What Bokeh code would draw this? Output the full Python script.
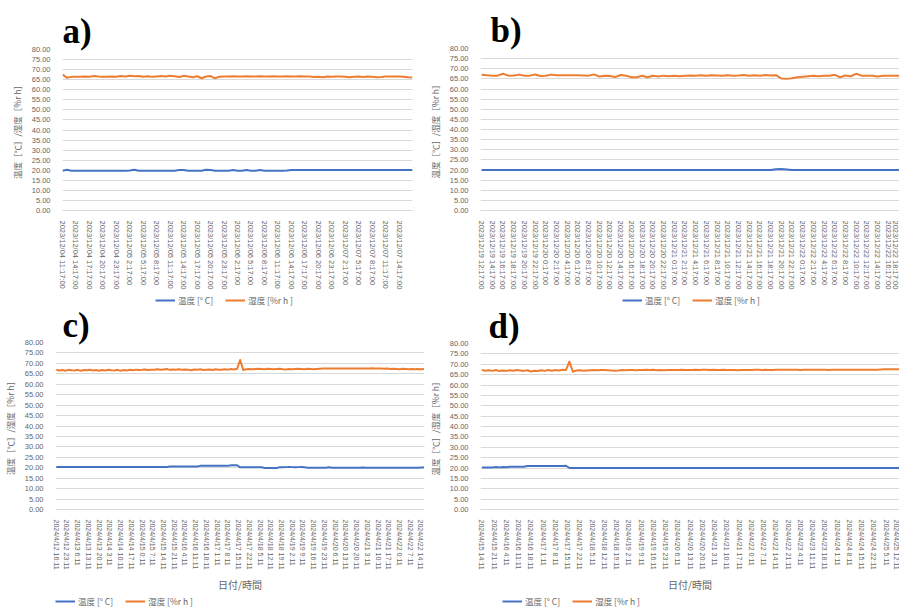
import numpy as np
from bokeh.plotting import figure
from bokeh.layouts import column, row
from bokeh.models import FixedTicker, PrintfTickFormatter, Legend, LegendItem, Range1d
from bokeh.embed import file_html
from bokeh.resources import INLINE

# ---------------- data ----------------
y_ticks = [0, 5, 10, 15, 20, 25, 30, 35, 40, 45, 50, 55, 60, 65, 70, 75, 80]

legend_temp = "温度 [° C]"
legend_hum = "湿度 [%r h ]"
y_title = "温度［℃］/湿度［%r h］"
x_title = "日付/時間"

# panel a : hourly data, labels every 3 h
labels_a = ["2023/12/04 11:17:00", "2023/12/04 14:17:00", "2023/12/04 17:17:00", "2023/12/04 20:17:00",
            "2023/12/04 23:17:00", "2023/12/05 2:17:00", "2023/12/05 5:17:00", "2023/12/05 8:17:00",
            "2023/12/05 11:17:00", "2023/12/05 14:17:00", "2023/12/05 17:17:00", "2023/12/05 20:17:00",
            "2023/12/05 23:17:00", "2023/12/06 2:17:00", "2023/12/06 5:17:00", "2023/12/06 8:17:00",
            "2023/12/06 11:17:00", "2023/12/06 14:17:00", "2023/12/06 17:17:00", "2023/12/06 20:17:00",
            "2023/12/06 23:17:00", "2023/12/07 2:17:00", "2023/12/07 5:17:00", "2023/12/07 8:17:00",
            "2023/12/07 11:17:00", "2023/12/07 14:17:00"]
hum_a = [67.5, 66.0, 66.4, 66.5, 66.5, 66.6, 66.5, 66.8, 66.6, 66.5,
         66.5, 66.6, 66.5, 66.8, 66.6, 66.9, 66.7, 66.8, 66.5, 66.7,
         66.4, 66.6, 66.8, 66.6, 66.9, 66.7, 66.3, 66.9, 66.6, 66.2,
         66.7, 65.7, 66.6, 66.8, 65.7, 66.5, 66.6, 66.6, 66.7, 66.6,
         66.6, 66.7, 66.6, 66.6, 66.7, 66.6, 66.6, 66.7, 66.6, 66.6,
         66.7, 66.6, 66.6, 66.7, 66.6, 66.6, 66.3, 66.4, 66.2, 66.6,
         66.5, 66.6, 66.6, 66.5, 66.2, 66.5, 66.6, 66.3, 66.6, 66.4,
         66.2, 66.3, 66.6, 66.6, 66.6, 66.6, 66.5, 66.2, 66.1]
temp_a = [19.8, 20.2, 19.8, 19.8, 19.8, 19.8, 19.8, 19.8, 19.8, 19.8,
          19.8, 19.8, 19.8, 19.8, 19.8, 19.9, 20.2, 19.8, 19.8, 19.8,
          19.8, 19.8, 19.8, 19.8, 19.8, 19.8, 20.1, 20.1, 19.8, 19.8,
          19.8, 19.8, 20.2, 20.1, 19.8, 19.8, 19.8, 19.8, 20.1, 19.8,
          19.8, 20.1, 19.8, 19.8, 20.1, 19.8, 19.8, 19.8, 19.8, 19.8,
          19.9, 20.1, 20.1, 20.1, 20.1, 20.1, 20.1, 20.1, 20.1, 20.1,
          20.1, 20.1, 20.1, 20.1, 20.1, 20.1, 20.1, 20.1, 20.1, 20.1,
          20.1, 20.1, 20.1, 20.1, 20.1, 20.1, 20.1, 20.1, 20.1]

# panel b : hourly data, labels every 2 h
labels_b = ["2023/12/19 12:17:00", "2023/12/19 14:17:00", "2023/12/19 16:17:00", "2023/12/19 18:17:00",
            "2023/12/19 20:17:00", "2023/12/19 22:17:00",
            "2023/12/20 0:17:00", "2023/12/20 2:17:00", "2023/12/20 4:17:00", "2023/12/20 6:17:00",
            "2023/12/20 8:17:00", "2023/12/20 10:17:00", "2023/12/20 12:17:00", "2023/12/20 14:17:00",
            "2023/12/20 16:17:00", "2023/12/20 18:17:00", "2023/12/20 20:17:00", "2023/12/20 22:17:00",
            "2023/12/21 0:17:00", "2023/12/21 2:17:00", "2023/12/21 4:17:00", "2023/12/21 6:17:00",
            "2023/12/21 8:17:00", "2023/12/21 10:17:00", "2023/12/21 12:17:00", "2023/12/21 14:17:00",
            "2023/12/21 16:17:00", "2023/12/21 18:17:00", "2023/12/21 20:17:00", "2023/12/21 22:17:00",
            "2023/12/22 0:17:00", "2023/12/22 2:17:00", "2023/12/22 4:17:00", "2023/12/22 6:17:00",
            "2023/12/22 8:17:00", "2023/12/22 10:17:00", "2023/12/22 12:17:00", "2023/12/22 14:17:00",
            "2023/12/22 16:17:00", "2023/12/22 18:17:00"]
hum_b = [67.0, 66.8, 66.5, 66.6, 67.5, 66.6, 66.7, 67.1, 66.5, 66.6,
         67.2, 66.4, 66.5, 67.1, 66.8, 66.8, 66.8, 66.8, 66.8, 66.7,
         66.6, 67.2, 66.2, 66.5, 66.4, 65.9, 66.9, 66.6, 65.8, 65.8,
         66.5, 65.8, 66.5, 66.2, 66.6, 66.3, 66.5, 66.3, 66.6, 66.7,
         66.5, 66.8, 66.6, 66.8, 66.7, 66.6, 66.8, 66.6, 66.7, 66.9,
         66.6, 66.8, 66.6, 66.9, 66.7, 66.8, 65.2, 65.0, 65.3, 65.8,
         66.1, 66.3, 66.5, 66.3, 66.5, 66.5, 67.0, 65.8, 66.7, 66.3,
         67.5, 66.6, 66.5, 66.5, 66.2, 66.5, 66.5, 66.5, 66.5]
temp_b = [20.0, 20.0, 20.0, 20.0, 20.0, 20.0, 20.0, 20.0, 20.0, 20.0,
          20.0, 20.0, 20.0, 20.0, 20.0, 20.0, 20.0, 20.0, 20.0, 20.0,
          20.0, 20.0, 20.0, 20.0, 20.0, 20.0, 20.0, 20.0, 20.0, 20.0,
          20.0, 20.0, 20.0, 20.0, 20.0, 20.0, 20.0, 20.0, 20.0, 20.0,
          20.0, 20.0, 20.0, 20.0, 20.0, 20.0, 20.0, 20.0, 20.0, 20.0,
          20.0, 20.0, 20.0, 20.0, 20.0, 20.4, 20.5, 20.3, 20.0, 20.0,
          20.0, 20.0, 20.0, 20.0, 20.0, 20.0, 20.0, 20.0, 20.0, 20.0,
          20.0, 20.0, 20.0, 20.0, 20.0, 20.0, 20.0, 20.0, 20.0]

# panel c : 2-hourly data, labels every 7 h
labels_c = ["2024/4/12 16:11", "2024/4/12 23:11", "2024/4/13 6:11", "2024/4/13 13:11", "2024/4/13 20:11",
            "2024/4/14 3:11", "2024/4/14 10:11", "2024/4/14 17:11", "2024/4/15 0:11", "2024/4/15 7:11",
            "2024/4/15 14:11", "2024/4/15 21:11", "2024/4/16 4:11", "2024/4/16 11:11", "2024/4/16 18:11",
            "2024/4/17 1:11", "2024/4/17 8:11", "2024/4/17 15:11", "2024/4/17 22:11", "2024/4/18 5:11",
            "2024/4/18 12:11", "2024/4/18 19:11", "2024/4/19 2:11", "2024/4/19 9:11", "2024/4/19 16:11",
            "2024/4/19 23:11", "2024/4/20 6:11", "2024/4/20 13:11", "2024/4/20 20:11", "2024/4/21 3:11",
            "2024/4/21 10:11", "2024/4/21 17:11", "2024/4/22 0:11", "2024/4/22 7:11", "2024/4/22 14:11"]
hum_c = [66.9, 66.6, 66.8, 66.5, 66.9, 66.7, 66.6, 66.9, 66.5, 66.8,
         66.7, 66.9, 66.6, 66.8, 66.5, 66.8, 66.6, 66.9, 66.7, 66.6,
         66.9, 66.5, 66.8, 66.6, 66.9, 66.7, 67.0, 66.8, 66.9, 67.1,
         66.8, 67.0, 66.9, 67.2, 66.9, 67.1, 67.3, 66.9, 67.1, 67.0,
         67.2, 66.9, 67.1, 67.0, 66.7, 67.1, 67.0, 67.2, 66.8, 67.0,
         67.1, 66.8, 67.2, 67.0, 66.9, 67.2, 67.0, 67.3, 67.1, 67.4,
         71.6,
         66.8, 67.2, 67.3, 67.2, 67.3, 67.4, 67.3, 67.2, 67.4, 67.3,
         67.2, 67.3, 67.4, 67.2, 67.1, 67.3, 67.2, 67.3, 67.4, 67.3,
         67.2, 67.4, 67.3, 67.2, 67.3, 67.4, 67.5, 67.5, 67.5, 67.5,
         67.5, 67.6, 67.5, 67.5, 67.6, 67.5, 67.5, 67.6, 67.6, 67.5,
         67.5, 67.6, 67.7, 67.6, 67.5, 67.5, 67.4, 67.5, 67.3, 67.4,
         67.3, 67.2, 67.4, 67.3, 67.2, 67.3, 67.2, 67.3, 67.2, 67.3]
temp_c = [20.3, 20.3, 20.3, 20.3, 20.3, 20.3, 20.3, 20.3, 20.3, 20.3,
          20.3, 20.3, 20.3, 20.3, 20.3, 20.3, 20.3, 20.3, 20.3, 20.3,
          20.3, 20.3, 20.3, 20.3, 20.3, 20.3, 20.3, 20.3, 20.3, 20.3,
          20.3, 20.3, 20.3, 20.3, 20.3, 20.3, 20.3, 20.6, 20.6, 20.6,
          20.6, 20.6, 20.6, 20.6, 20.6, 20.6, 20.6, 20.9, 20.9, 20.9,
          20.9, 20.9, 20.9, 20.9, 20.9, 20.9, 20.9, 21.2, 21.2, 21.2,
          20.2,
          20.2, 20.2, 20.2, 20.2, 20.2, 20.2, 20.2, 19.9, 19.9, 19.9,
          19.9, 19.9, 20.3, 20.2, 20.3, 20.4, 20.3, 20.2, 20.3, 20.4,
          20.2, 20.0, 20.0, 20.0, 20.0, 20.0, 20.0, 20.0, 20.2, 20.0,
          20.0, 20.0, 20.0, 20.0, 20.0, 20.0, 20.0, 20.0, 20.0, 20.1,
          20.0, 20.0, 20.0, 20.0, 20.0, 20.0, 20.0, 20.0, 20.0, 20.0,
          20.0, 20.0, 20.0, 20.0, 20.0, 20.0, 20.0, 20.0, 20.1, 20.1]

# panel d : 2-hourly data, labels every 7 h
labels_d = ["2024/4/15 14:11", "2024/4/15 21:11", "2024/4/16 4:11", "2024/4/16 11:11", "2024/4/16 18:11",
            "2024/4/17 1:11", "2024/4/17 8:11", "2024/4/17 15:11", "2024/4/17 22:11", "2024/4/18 5:11",
            "2024/4/18 12:11", "2024/4/18 19:11", "2024/4/19 2:11", "2024/4/19 9:11", "2024/4/19 16:11",
            "2024/4/19 23:11", "2024/4/20 6:11", "2024/4/20 13:11", "2024/4/20 20:11", "2024/4/21 3:11",
            "2024/4/21 10:11", "2024/4/21 17:11", "2024/4/22 0:11", "2024/4/22 7:11", "2024/4/22 14:11",
            "2024/4/22 21:11", "2024/4/23 4:11", "2024/4/23 11:11", "2024/4/23 18:11", "2024/4/24 1:11",
            "2024/4/24 8:11", "2024/4/24 15:11", "2024/4/24 22:11", "2024/4/25 5:11", "2024/4/25 12:11"]
hum_d = [67.2, 66.9, 67.1, 66.8, 67.2, 66.7, 67.0, 66.8, 67.1, 66.9,
         67.2, 67.0, 66.8, 67.1, 66.5, 66.9, 66.7, 67.1, 66.8, 67.2,
         66.9, 67.2, 67.0, 67.3, 67.2,
         71.3,
         66.4, 67.0, 67.1, 66.9, 67.0, 67.1, 67.2, 67.1, 67.2, 67.2,
         67.1, 67.0, 66.9, 67.0, 67.2, 67.1, 67.2, 67.2, 67.1, 67.2,
         67.2, 67.3, 67.2, 67.4, 67.1, 67.2, 67.1, 67.2, 67.2, 67.2,
         67.2, 67.3, 67.2, 67.2, 67.2, 67.3, 67.2, 67.3, 67.3, 67.2,
         67.3, 67.2, 67.2, 67.3, 67.2, 67.2, 67.2, 67.1, 67.2, 67.2,
         67.2, 67.2, 67.3, 67.3, 67.2, 67.3, 67.2, 67.2, 67.3, 67.3,
         67.4, 67.3, 67.3, 67.4, 67.3, 67.2, 67.3, 67.4, 67.3, 67.3,
         67.3, 67.4, 67.3, 67.2, 67.4, 67.3, 67.3, 67.4, 67.3, 67.3,
         67.4, 67.3, 67.4, 67.3, 67.3, 67.4, 67.3, 67.4, 67.5, 67.6,
         67.6, 67.6, 67.6, 67.6, 67.6]
temp_d = [20.3, 20.3, 20.3, 20.3, 20.5, 20.3, 20.5, 20.4, 20.6, 20.6,
          20.6, 20.6, 20.6, 21.0, 21.0, 21.0, 21.0, 21.0, 21.0, 21.0,
          21.0, 21.0, 21.0, 21.0, 21.1,
          20.0,
          20.0, 20.0, 20.0, 20.0, 20.0, 20.0, 20.0, 20.0, 20.0, 20.0,
          20.0, 20.0, 20.0, 20.0, 20.0, 20.0, 20.0, 20.0, 20.0, 20.0,
          20.0, 20.0, 20.0, 20.0, 20.0, 20.0, 20.0, 20.0, 20.0, 20.0,
          20.0, 20.0, 20.0, 20.0, 20.0, 20.0, 20.0, 20.0, 20.0, 20.0,
          20.0, 20.0, 20.0, 20.0, 20.0, 20.0, 20.0, 20.0, 20.0, 20.0,
          20.0, 20.0, 20.0, 20.0, 20.0, 20.0, 20.0, 20.0, 20.0, 20.0,
          20.0, 20.0, 20.0, 20.0, 20.0, 20.0, 20.0, 20.0, 20.0, 20.0,
          20.0, 20.0, 20.0, 20.0, 20.0, 20.0, 20.0, 20.0, 20.0, 20.0,
          20.0, 20.0, 20.0, 20.0, 20.0, 20.0, 20.0, 20.0, 20.0, 20.0,
          20.0, 20.0, 20.0, 20.0, 20.0]

# ---------------- styling ----------------
BLUE = "#4472C4"
ORANGE = "#ED7D31"
GRID = "#D9D9D9"
TXT = "#666666"


def make_panel(letter, title_offset, title_standoff, labels, label_step, data_step, temp, hum, xr,
               width, main_h, legend_h, b_left, b_right, b_top, b_bottom, tick_font, legend_x,
               with_xtitle):
    p = figure(width=width, height=main_h, output_backend="svg", toolbar_location=None,
               x_range=Range1d(*xr), y_range=Range1d(0, 80),
               min_border_left=b_left, min_border_right=b_right,
               min_border_top=b_top, min_border_bottom=b_bottom)
    p.background_fill_color = "white"
    p.border_fill_color = "white"
    p.outline_line_color = None

    p.title.text = letter
    p.title.text_font = "Liberation Serif"
    p.title.text_font_size = "35px"
    p.title.text_font_style = "bold"
    p.title.text_color = "black"
    p.title.align = "left"
    p.title.offset = title_offset
    p.title.standoff = title_standoff

    x = np.arange(len(hum)) * data_step
    p.line(x, temp, color=BLUE, line_width=2, line_join="round")
    p.line(x, hum, color=ORANGE, line_width=2, line_join="round")

    ticks = [i * label_step for i in range(len(labels))]
    p.xaxis.ticker = FixedTicker(ticks=ticks, minor_ticks=[])
    p.xaxis.major_label_overrides = {t: l for t, l in zip(ticks, labels)}
    p.xaxis.major_label_orientation = "vertical"
    p.xaxis.major_label_text_font = "Liberation Sans"
    p.xaxis.major_label_text_font_size = tick_font
    p.xaxis.major_label_text_color = TXT
    p.xaxis.major_label_standoff = 4
    p.xaxis.axis_line_color = GRID
    p.xaxis.major_tick_line_color = None
    p.xaxis.minor_tick_line_color = None
    if with_xtitle:
        p.xaxis.axis_label = x_title
        p.xaxis.axis_label_text_font = "Noto Sans CJK JP"
        p.xaxis.axis_label_text_font_size = "10px"
        p.xaxis.axis_label_text_font_style = "normal"
        p.xaxis.axis_label_text_color = TXT
        p.xaxis.axis_label_standoff = 4

    p.yaxis.ticker = FixedTicker(ticks=y_ticks, minor_ticks=[])
    p.yaxis.formatter = PrintfTickFormatter(format="%.2f")
    p.yaxis.major_label_text_font = "Liberation Sans"
    p.yaxis.major_label_text_font_size = "7.5px"
    p.yaxis.major_label_text_color = TXT
    p.yaxis.major_label_standoff = 6
    p.yaxis.axis_line_color = None
    p.yaxis.major_tick_line_color = None
    p.yaxis.minor_tick_line_color = None
    p.yaxis.axis_label = y_title
    p.yaxis.axis_label_text_font = "Noto Sans CJK JP"
    p.yaxis.axis_label_text_font_size = "8.5px"
    p.yaxis.axis_label_text_font_style = "normal"
    p.yaxis.axis_label_text_color = TXT
    p.yaxis.axis_label_standoff = 6

    p.xgrid.grid_line_color = None
    p.ygrid.grid_line_color = GRID
    p.ygrid.grid_line_width = 1

    # legend strip under the chart (its ranges keep the series out of view; only the keys show)
    lg = figure(width=width, height=legend_h, output_backend="svg", toolbar_location=None,
                x_range=Range1d(-1, -0.5), y_range=Range1d(-1, -0.5),
                x_axis_type=None, y_axis_type=None,
                min_border_left=0, min_border_right=0, min_border_top=0, min_border_bottom=0)
    lg.outline_line_color = None
    lg.background_fill_color = "white"
    lg.border_fill_color = "white"
    key_t = lg.line(x, temp, color=BLUE, line_width=2)
    key_h = lg.line(x, hum, color=ORANGE, line_width=2)
    legend = Legend(items=[LegendItem(label=legend_temp, renderers=[key_t]),
                           LegendItem(label=legend_hum, renderers=[key_h])],
                    orientation="horizontal", location=(legend_x, 0))
    legend.label_text_font = "Noto Sans CJK JP"
    legend.label_text_font_size = "8.5px"
    legend.label_text_color = TXT
    legend.glyph_width = 20
    legend.glyph_height = 10
    legend.label_height = 10
    legend.label_standoff = 3
    legend.spacing = 12
    legend.padding = 1
    legend.margin = 0
    legend.border_line_color = None
    legend.background_fill_alpha = 0
    lg.add_layout(legend)
    return column(p, lg, spacing=0)


pa = make_panel("a)", 0, -2, labels_a, 3, 1, temp_a, hum_a, (0, 78), 425, 292, 14,
                62, 13, 49, 80, "7.5px", 93, False)
pb = make_panel("b)", 10, -2, labels_b, 2, 1, temp_b, hum_b, (-0.2, 78.1), 474, 292, 14,
                53, 0, 48, 82, "7.5px", 142, False)
pc = make_panel("c)", 7, -5, labels_c, 7, 2, temp_c, hum_c, (-0.5, 240.3), 425, 289, 12,
                55, 1, 36, 86, "7px", 0, True)
pd = make_panel("d)", 8, -5, labels_d, 7, 2, temp_d, hum_d, (-0.8, 238.6), 474, 289, 12,
                55, 0, 37, 86, "7px", 22, True)

layout = column(row(pa, pb, spacing=0), row(pc, pd, spacing=0), spacing=0)
open("out.html", "w").write(file_html(layout, INLINE))
